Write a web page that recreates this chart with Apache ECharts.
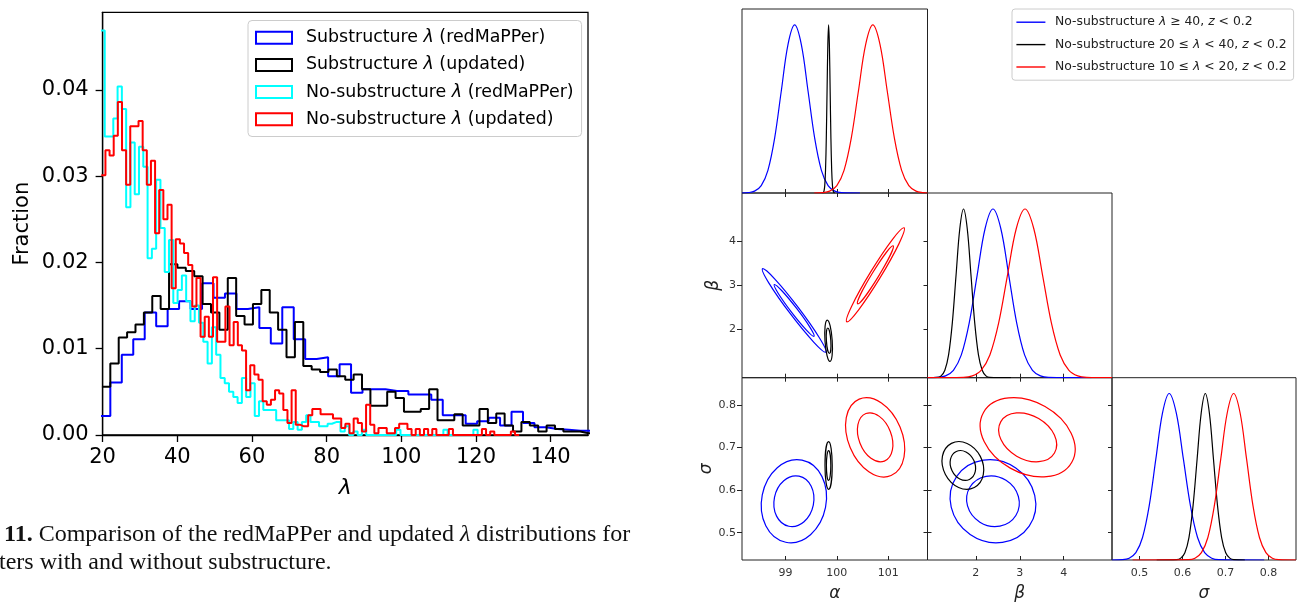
<!DOCTYPE html>
<html>
<head>
<meta charset="utf-8">
<script src="https://cdn.jsdelivr.net/npm/echarts@6/dist/echarts.min.js"></script>
<style>
html,body{margin:0;padding:0;background:#fff;}
#chart{width:1297px;height:603px;}
</style>
</head>
<body>
<div id="chart"></div>
<script>
// ================= LEFT PANEL: histograms of lambda =================
const histNames = [
  'Substructure λ (redMaPPer)',
  'Substructure λ (updated)',
  'No-substructure λ (redMaPPer)',
  'No-substructure λ (updated)'
];
const xTicksLambda = [20, 40, 60, 80, 100, 120, 140];
const yTicksFraction = [0, 0.01, 0.02, 0.03, 0.04];

// bins: first bin left edge, bin width, fraction per bin
const subRedmapperStart = 19.0, subRedmapperWidth = 3.07;
const subRedmapperValues = [0.0022, 0.0061, 0.0093, 0.0111, 0.0142, 0.0126, 0.0146, 0.0155, 0.0146, 0.0176,
  0.0159, 0.0164, 0.0146, 0.0148, 0.0124, 0.0106, 0.0148, 0.0111, 0.0088, 0.0090,
  0.0068, 0.0082, 0.0049, 0.0053, 0.0053, 0.0051, 0.0051, 0.0047, 0.0047, 0.0041,
  0.0023, 0.0023, 0.0013, 0.0016, 0.0020, 0.0011, 0.0027, 0.0014, 0.0009, 0.0007,
  0.0006, 0.0005, 0.0005];

const subUpdatedStart = 19.82, subUpdatedWidth = 2.247;
const subUpdatedValues = [0.0056, 0.0083, 0.0113, 0.0119, 0.0128, 0.0142, 0.0161, 0.0146, 0.0198, 0.0194,
  0.0190, 0.0184, 0.0152, 0.0142, 0.0122, 0.0182, 0.0138, 0.0128, 0.0152, 0.0168,
  0.0142, 0.0122, 0.0090, 0.0131, 0.0080, 0.0076, 0.0073, 0.0076, 0.0068, 0.0064,
  0.0070, 0.0053, 0.0034, 0.0034, 0.0050, 0.0043, 0.0027, 0.0027, 0.0030, 0.0053,
  0.0017, 0.0017, 0.0024, 0.0011, 0.0011, 0.0030, 0.0014, 0.0025, 0.0011, 0.0004,
  0.0015, 0.0011, 0.0004, 0.0011, 0.0007, 0.0004, 0.0004, 0.0002, 0.0002];

const noSubRedmapperStart = 19.42, noSubRedmapperWidth = 1.148;
const noSubRedmapperValues = [0.0469, 0.0346, 0.0346, 0.0367, 0.0404, 0.0378, 0.0264, 0.0339, 0.0279, 0.0334,
  0.0311, 0.0205, 0.0216, 0.0296, 0.0240, 0.0189, 0.0226, 0.0153, 0.0168, 0.0185,
  0.0155, 0.0132, 0.0150, 0.0130, 0.0108, 0.0083, 0.0125, 0.0093, 0.0066, 0.0060,
  0.0050, 0.0044, 0.0037, 0.0066, 0.0044, 0.0060, 0.0022, 0.0039, 0.0029, 0.0029,
  0.0029, 0.0017, 0.0017, 0.0017, 0.0007, 0.0015, 0.0006, 0.0015, 0.0023, 0.0015,
  0.0015, 0.0010, 0.0010, 0.0013, 0.0015, 0.0015, 0.0004, 0.0010, 0, 0.0004,
  0, 0.0006, 0, 0, 0, 0, 0, 0, 0, 0.0006,
  0, 0, 0, 0, 0, 0, 0, 0, 0, 0,
  0.0006, 0, 0, 0, 0, 0, 0, 0.0006, 0];

const noSubUpdatedStart = 19.65, noSubUpdatedWidth = 1.108;
const noSubUpdatedValues = [0.0301, 0.0330, 0.0324, 0.0347, 0.0386, 0.0330, 0.0290, 0.0358, 0.0358, 0.0364,
  0.0330, 0.0290, 0.0318, 0.0234, 0.0284, 0.0250, 0.0267, 0.0170, 0.0227, 0.0222,
  0.0211, 0.0197, 0.0149, 0.0182, 0.0114, 0.0137, 0.0114, 0.0183, 0.0108, 0.0108,
  0.0149, 0.0104, 0.0131, 0.0104, 0.0098, 0.0052, 0.0081, 0.0070, 0.0064, 0.0039,
  0.0035, 0.0041, 0.0052, 0.0048, 0.0029, 0.0014, 0.0052, 0.0012, 0.0010, 0.0010,
  0.0023, 0.0030, 0.0030, 0.0024, 0.0024, 0.0024, 0.0019, 0.0019, 0.0008, 0.0013,
  0.0002, 0.0019, 0.0014, 0.0004, 0.0035, 0.0012, 0.0002, 0.0008, 0.0008, 0.0002,
  0.0002, 0.0008, 0.0013, 0.0013, 0.0007, 0, 0.0007, 0, 0.0007, 0,
  0.0007, 0, 0, 0, 0.0007, 0, 0, 0, 0, 0,
  0, 0, 0.0007, 0, 0.0004, 0, 0, 0, 0, 0.0004, 0];

// ================= RIGHT PANEL: corner plot =================
const cornerNames = [
  'No-substructure λ ≥ 40, z < 0.2',
  'No-substructure 20 ≤ λ < 40, z < 0.2',
  'No-substructure 10 ≤ λ < 20, z < 0.2'
];
const alphaRange = [98.156, 101.763];
const betaRange = [0.9, 5.1];
const sigmaRange = [0.436, 0.864];
const alphaTicks = [99, 100, 101];
const betaTicks = [2, 3, 4];
const sigmaTicks = [0.5, 0.6, 0.7, 0.8];

// 1D marginals: [parameter value, relative density]
const alphaCurveHigh = [[98.156,0],[98.27,0.002],[98.40,0.011],[98.53,0.044],[98.66,0.135],[98.79,0.325],[98.92,0.607],[99.05,0.883],[99.18,1],[99.31,0.883],[99.44,0.607],[99.57,0.325],[99.70,0.135],[99.83,0.044],[99.96,0.011],[100.09,0.002],[100.45,0]];
const alphaCurveMid = [[99.72,0],[99.735,0.002],[99.75,0.011],[99.765,0.044],[99.78,0.135],[99.795,0.325],[99.81,0.607],[99.825,0.883],[99.84,1],[99.855,0.883],[99.87,0.607],[99.885,0.325],[99.90,0.135],[99.915,0.044],[99.93,0.011],[99.945,0.002],[99.96,0]];
const alphaCurveLow = [[99.56,0],[99.72,0.002],[99.86,0.011],[100.0,0.044],[100.14,0.135],[100.28,0.325],[100.42,0.607],[100.56,0.883],[100.70,1],[100.84,0.883],[100.98,0.607],[101.12,0.325],[101.26,0.135],[101.40,0.044],[101.54,0.011],[101.68,0.002],[101.763,0]];

const betaCurveHigh = [[0.9,0],[1.13,0.002],[1.31,0.011],[1.49,0.044],[1.67,0.135],[1.85,0.325],[2.03,0.607],[2.21,0.883],[2.39,1],[2.57,0.883],[2.75,0.607],[2.93,0.325],[3.11,0.135],[3.29,0.044],[3.47,0.011],[3.65,0.002],[4.63,0]];
const betaCurveMid = [[0.9,0],[1.125,0.002],[1.21,0.011],[1.295,0.044],[1.38,0.135],[1.465,0.325],[1.55,0.607],[1.635,0.883],[1.72,1],[1.805,0.883],[1.89,0.607],[1.975,0.325],[2.06,0.135],[2.145,0.044],[2.23,0.011],[2.315,0.002],[2.8,0]];
const betaCurveLow = [[0.9,0],[1.72,0.002],[1.92,0.011],[2.12,0.044],[2.32,0.135],[2.52,0.325],[2.72,0.607],[2.92,0.883],[3.12,1],[3.32,0.883],[3.52,0.607],[3.72,0.325],[3.92,0.135],[4.12,0.044],[4.32,0.011],[4.52,0.002],[5.1,0]];

const sigmaCurveHigh = [[0.436,0],[0.4605,0.002],[0.476,0.011],[0.4915,0.044],[0.507,0.135],[0.5225,0.325],[0.538,0.607],[0.5535,0.883],[0.569,1],[0.5855,0.883],[0.602,0.607],[0.6185,0.325],[0.635,0.135],[0.6515,0.044],[0.668,0.011],[0.6845,0.002],[0.79,0]];
const sigmaCurveMid = [[0.54,0],[0.5865,0.002],[0.596,0.011],[0.6055,0.044],[0.615,0.135],[0.6245,0.325],[0.634,0.607],[0.6435,0.883],[0.653,1],[0.6625,0.883],[0.672,0.607],[0.6815,0.325],[0.691,0.135],[0.7005,0.044],[0.71,0.011],[0.7195,0.002],[0.745,0]];
const sigmaCurveLow = [[0.484,0],[0.614,0.002],[0.629,0.011],[0.644,0.044],[0.659,0.135],[0.674,0.325],[0.689,0.607],[0.704,0.883],[0.719,1],[0.734,0.883],[0.749,0.607],[0.764,0.325],[0.779,0.135],[0.794,0.044],[0.809,0.011],[0.824,0.002],[0.864,0]];

// 2D contours (95% outer, 68% inner): [centre x, centre y, half-extent x, half-extent y, tilt correlation]
const alphaBetaHigh = [[99.17, 2.43, 0.62, 0.95, -0.98], [99.17, 2.43, 0.39, 0.59, -0.98]];
const alphaBetaMid  = [[99.84, 1.74, 0.075, 0.47, -0.35], [99.84, 1.74, 0.046, 0.29, -0.35]];
const alphaBetaLow  = [[100.75, 3.24, 0.565, 1.07, 0.975], [100.75, 3.24, 0.35, 0.66, 0.975]];
const alphaSigmaHigh = [[99.165, 0.574, 0.635, 0.0975, 0.1], [99.165, 0.574, 0.39, 0.0595, 0.1]];
const alphaSigmaMid  = [[99.84, 0.658, 0.07, 0.056, 0], [99.84, 0.658, 0.043, 0.035, 0]];
const alphaSigmaLow  = [[100.745, 0.724, 0.575, 0.093, -0.3], [100.745, 0.724, 0.345, 0.0575, -0.3]];
const betaSigmaHigh = [[2.39, 0.574, 0.975, 0.0975, -0.08], [2.39, 0.574, 0.6, 0.0595, -0.08]];
const betaSigmaMid  = [[1.705, 0.658, 0.475, 0.056, -0.19], [1.705, 0.658, 0.29, 0.035, -0.19]];
const betaSigmaLow  = [[3.18, 0.724, 1.08, 0.093, -0.3], [3.18, 0.724, 0.66, 0.0575, -0.3]];

// ================= build =================
const histColors = ['#0000ff', '#000000', '#00ffff', '#ff0000'];
const cornerColors = ['#0000ff', '#000000', '#ff0000'];
const FONT = 'DejaVu Sans';

function stepData(start, width, values) {
  const d = values.map((v, i) => [start + i * width, v]);
  const end = start + values.length * width;
  d.push([end, values[values.length - 1]]);
  d.push([end, 0]);
  return d;
}

function ellipseRenderer(color) {
  return function (params, api) {
    const cx = api.value(0), cy = api.value(1), hx = api.value(2), hy = api.value(3), rho = api.value(4);
    const c = api.coord([cx, cy]);
    const px = api.coord([cx + hx, cy]);
    const py = api.coord([cx, cy + hy]);
    const a = Math.abs(px[0] - c[0]);
    const b = Math.abs(py[1] - c[1]);
    const p = a * a, r = b * b, q = -rho * a * b;
    const mid = (p + r) / 2, d = Math.sqrt(((p - r) / 2) * ((p - r) / 2) + q * q);
    const l1 = mid + d, l2 = Math.max(mid - d, 0.01);
    const theta = 0.5 * Math.atan2(2 * q, p - r);
    return {
      type: 'ellipse',
      x: c[0], y: c[1], rotation: -theta,
      shape: { cx: 0, cy: 0, rx: Math.sqrt(l1), ry: Math.sqrt(l2) },
      style: { fill: 'none', stroke: color, lineWidth: 1.2 }
    };
  };
}

const tickLineStyle = { color: '#222', width: 1 };
const cornerLabel = { fontFamily: FONT, fontSize: 11, color: '#333' };
const cornerName = { fontFamily: FONT, fontSize: 17, fontStyle: 'italic', color: '#222' };

function cAxis(gridIndex, range, ticks, o) {
  o = o || {};
  const ax = {
    type: 'value', gridIndex: gridIndex, min: range[0], max: range[1],
    position: o.position,
    axisLine: { show: false },
    splitLine: { show: false },
    axisTick: { show: true, inside: o.outside ? false : true, length: o.outside ? 5 : 4, customValues: ticks, lineStyle: tickLineStyle },
    axisLabel: { show: !!o.labels, customValues: ticks, margin: o.margin || 6, ...cornerLabel }
  };
  if (o.name) {
    ax.name = o.name;
    ax.nameLocation = 'middle';
    ax.nameGap = o.nameGap;
    ax.nameTextStyle = cornerName;
    if (o.nameRotate !== undefined) ax.nameRotate = o.nameRotate;
  }
  return ax;
}
function hiddenY(gridIndex) {
  return { type: 'value', gridIndex: gridIndex, min: 0, max: 1.095, show: false, splitLine: { show: false } };
}

const grid = [
  { left: 102.6, top: 12.3, width: 485.4, height: 422.7, show: true, borderColor: '#000', borderWidth: 1.3 },
  { left: 742, top: 9, width: 185.5, height: 184, show: true, borderColor: '#222', borderWidth: 1 },        // 1 alpha 1D
  { left: 742, top: 193, width: 185.5, height: 184.7, show: true, borderColor: '#222', borderWidth: 1 },    // 2 alpha-beta
  { left: 742, top: 377.7, width: 185.5, height: 184.3, show: true, borderColor: '#222', borderWidth: 1 },  // 3 alpha-sigma
  { left: 927.5, top: 193, width: 184.5, height: 184.7, show: true, borderColor: '#222', borderWidth: 1 },  // 4 beta 1D
  { left: 927.5, top: 377.7, width: 184.5, height: 184.3, show: true, borderColor: '#222', borderWidth: 1 },// 5 beta-sigma
  { left: 1112, top: 377.7, width: 184, height: 184.3, show: true, borderColor: '#222', borderWidth: 1 }    // 6 sigma 1D
];

const xAxis = [
  { type: 'value', gridIndex: 0, min: 20, max: 150,
    name: 'λ', nameLocation: 'middle', nameGap: 42,
    nameTextStyle: { fontFamily: FONT, fontSize: 22, fontStyle: 'italic', color: '#000' },
    axisLine: { show: true, lineStyle: { color: '#000', width: 1.3 } },
    axisTick: { show: true, inside: false, length: 7, customValues: xTicksLambda, lineStyle: { color: '#000', width: 1.3 } },
    axisLabel: { fontFamily: FONT, fontSize: 21, color: '#000', margin: 12, customValues: xTicksLambda },
    splitLine: { show: false } },
  cAxis(1, alphaRange, alphaTicks, { position: 'bottom' }),
  cAxis(2, alphaRange, alphaTicks, { position: 'bottom' }),
  cAxis(2, alphaRange, alphaTicks, { position: 'top' }),
  cAxis(3, alphaRange, alphaTicks, { position: 'bottom', labels: true, margin: 8, name: 'α', nameGap: 25 }),
  cAxis(3, alphaRange, alphaTicks, { position: 'top' }),
  cAxis(4, betaRange, betaTicks, { position: 'bottom' }),
  cAxis(5, betaRange, betaTicks, { position: 'bottom', labels: true, margin: 8, name: 'β', nameGap: 25 }),
  cAxis(5, betaRange, betaTicks, { position: 'top' }),
  cAxis(6, sigmaRange, sigmaTicks, { position: 'bottom', labels: true, margin: 8, name: 'σ', nameGap: 25 })
];

const yAxis = [
  { type: 'value', gridIndex: 0, min: 0, max: 0.049,
    name: 'Fraction', nameLocation: 'middle', nameGap: 70, nameRotate: 90,
    nameTextStyle: { fontFamily: FONT, fontSize: 21, color: '#000' },
    axisLine: { show: true, lineStyle: { color: '#000', width: 1.3 } },
    axisTick: { show: true, inside: false, length: 7, customValues: yTicksFraction, lineStyle: { color: '#000', width: 1.3 } },
    axisLabel: { fontFamily: FONT, fontSize: 21, color: '#000', margin: 14, customValues: yTicksFraction, formatter: v => v.toFixed(2) },
    splitLine: { show: false } },
  hiddenY(1),
  cAxis(2, betaRange, betaTicks, { position: 'left', outside: true, labels: true, margin: 6, name: 'β', nameGap: 20, nameRotate: 90 }),
  cAxis(2, betaRange, betaTicks, { position: 'right' }),
  cAxis(3, sigmaRange, sigmaTicks, { position: 'left', outside: true, labels: true, margin: 6, name: 'σ', nameGap: 20, nameRotate: 90 }),
  cAxis(3, sigmaRange, sigmaTicks, { position: 'right' }),
  hiddenY(4),
  cAxis(5, sigmaRange, sigmaTicks, { position: 'left' }),
  cAxis(5, sigmaRange, sigmaTicks, { position: 'right' }),
  hiddenY(6)
];

const series = [];
const histSets = [
  [subRedmapperStart, subRedmapperWidth, subRedmapperValues],
  [subUpdatedStart, subUpdatedWidth, subUpdatedValues],
  [noSubRedmapperStart, noSubRedmapperWidth, noSubRedmapperValues],
  [noSubUpdatedStart, noSubUpdatedWidth, noSubUpdatedValues]
];
histSets.forEach((h, i) => {
  series.push({
    name: histNames[i], type: 'line', xAxisIndex: 0, yAxisIndex: 0,
    step: 'end', symbol: 'none', clip: true, silent: true,
    data: stepData(h[0], h[1], h[2]),
    lineStyle: { color: histColors[i], width: 2 },
    itemStyle: { color: histColors[i] }
  });
});

function curve(name, xi, yi, data, color) {
  const s = { type: 'line', xAxisIndex: xi, yAxisIndex: yi, data: data, symbol: 'none',
    smooth: 0.35, clip: true, silent: true,
    lineStyle: { color: color, width: 1.2 }, itemStyle: { color: color } };
  if (name) s.name = name;
  return s;
}
const alphaCurves = [alphaCurveHigh, alphaCurveMid, alphaCurveLow];
const betaCurves = [betaCurveHigh, betaCurveMid, betaCurveLow];
const sigmaCurves = [sigmaCurveHigh, sigmaCurveMid, sigmaCurveLow];
for (let i = 0; i < 3; i++) {
  series.push(curve(cornerNames[i], 1, 1, alphaCurves[i], cornerColors[i]));
  series.push(curve(null, 6, 6, betaCurves[i], cornerColors[i]));
  series.push(curve(null, 9, 9, sigmaCurves[i], cornerColors[i]));
}
const contourSets = [
  [2, 2, [alphaBetaHigh, alphaBetaMid, alphaBetaLow]],
  [4, 4, [alphaSigmaHigh, alphaSigmaMid, alphaSigmaLow]],
  [7, 7, [betaSigmaHigh, betaSigmaMid, betaSigmaLow]]
];
contourSets.forEach(cs => {
  cs[2].forEach((d, i) => {
    series.push({
      type: 'custom', xAxisIndex: cs[0], yAxisIndex: cs[1], silent: true,
      dimensions: ['cx', 'cy', 'hx', 'hy', 'rho'], encode: { x: 0, y: 1 },
      renderItem: ellipseRenderer(cornerColors[i]), data: d
    });
  });
});

const option = {
  animation: false,
  backgroundColor: '#fff',
  textStyle: { fontFamily: FONT },
  grid: grid,
  xAxis: xAxis,
  yAxis: yAxis,
  legend: [
    { data: histNames, orient: 'vertical', left: 248, top: 20.5,
      icon: 'emptyRect', itemWidth: 36, itemHeight: 12, itemGap: 7.2,
      padding: [7.2, 8, 7.2, 7],
      backgroundColor: 'rgba(255,255,255,0.8)', borderColor: '#cccccc', borderWidth: 1, borderRadius: 4,
      selectedMode: false,
      formatter: n => n.replace('λ', '{i|λ}'),
      textStyle: { fontFamily: FONT, fontSize: 17.4, color: '#000', lineHeight: 20, padding: [0, 0, 0, 9],
        rich: { i: { fontFamily: FONT, fontSize: 17.4, fontStyle: 'italic', color: '#000' } } } },
    { data: cornerNames, orient: 'vertical', left: 1012, top: 9,
      icon: 'rect', itemWidth: 29, itemHeight: 1.4, itemGap: 8.4,
      padding: [6.2, 7, 6.2, 4.4],
      backgroundColor: '#fff', borderColor: '#cccccc', borderWidth: 1, borderRadius: 3,
      selectedMode: false,
      formatter: n => n.replace('λ', '{i|λ}').replace(' z ', ' {i|z} '),
      textStyle: { fontFamily: FONT, fontSize: 12.4, color: '#222', lineHeight: 14, padding: [0, 0, 0, 4.6],
        rich: { i: { fontFamily: FONT, fontSize: 12.4, fontStyle: 'italic', color: '#222' } } } }
  ],
  graphic: [
    { type: 'text', x: 4, y: 535, silent: true,
      style: { text: '{b|11.} Comparison of the redMaPPer and updated {i|λ} distributions for',
        fontFamily: 'Liberation Serif', fontSize: 24, fill: '#111', verticalAlign: 'middle',
        rich: { b: { fontFamily: 'Liberation Serif', fontSize: 24, fontWeight: 'bold', fill: '#111' },
                i: { fontFamily: 'Liberation Serif', fontSize: 24, fontStyle: 'italic', fill: '#111' } } } },
    { type: 'text', x: -1, y: 563, silent: true,
      style: { text: 'ters with and without substructure.',
        fontFamily: 'Liberation Serif', fontSize: 24, fill: '#111', verticalAlign: 'middle' } }
  ],
  series: series
};

const chart = echarts.init(document.getElementById('chart'), null, { renderer: 'canvas' });
chart.setOption(option);
</script>
</body>
</html>
